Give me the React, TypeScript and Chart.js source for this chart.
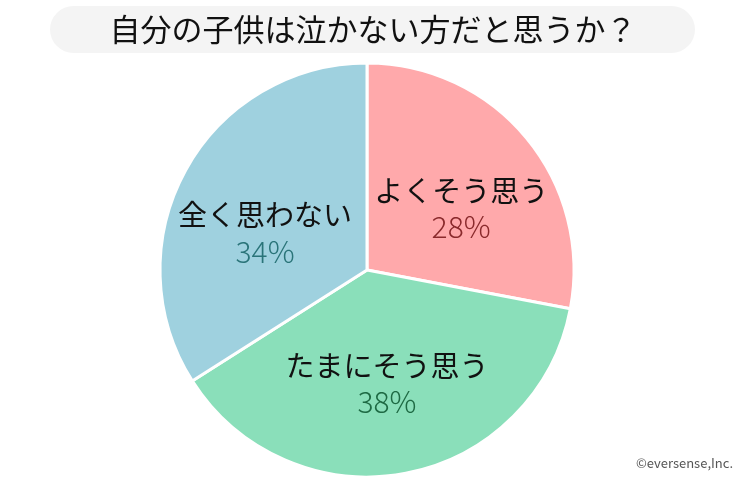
import { useEffect, useRef } from 'react'
import { Chart, ChartConfiguration, Plugin, registerables } from 'chart.js'

Chart.register(...registerables)

// データ
const title = '自分の子供は泣かない方だと思うか？'
const categories = ['よくそう思う', 'たまにそう思う', '全く思わない']
const percents = [28, 38, 34]
const sliceColors = ['#ffa9ab', '#8adfba', '#9fd1df']
const percentColors = ['#8a2a2c', '#1e6a44', '#2a7479']
const credit = '©eversense,Inc.'

const FONT = '"Noto Sans CJK JP", "Noto Sans", sans-serif'

// ラベル位置の微調整 (px)
const labelNudge = [
  { x: 8, y: 10 },
  { x: -1, y: 4 },
  { x: -4, y: 17 },
]

const titlePlugin: Plugin<'pie'> = {
  id: 'titleBox',
  beforeDraw(chart) {
    const { ctx } = chart
    ctx.save()
    ctx.fillStyle = '#f4f4f4'
    ctx.beginPath()
    ctx.roundRect(50, 6, 645, 47, 23.5)
    ctx.fill()
    ctx.fillStyle = '#111'
    ctx.font = `31px ${FONT}`
    ctx.textAlign = 'center'
    ctx.textBaseline = 'middle'
    ctx.fillText(title, 373, 29)

    ctx.fillStyle = '#555'
    ctx.font = `13px ${FONT}`
    ctx.textAlign = 'right'
    ctx.fillText(credit, 733, 463)
    ctx.restore()
  },
}

const labelPlugin: Plugin<'pie'> = {
  id: 'sliceLabels',
  afterDatasetsDraw(chart) {
    const { ctx } = chart
    const meta = chart.getDatasetMeta(0)
    ctx.save()
    ctx.textAlign = 'center'
    ctx.textBaseline = 'middle'
    meta.data.forEach((el: any, i) => {
      const { x, y, startAngle, endAngle, outerRadius } = el.getProps(
        ['x', 'y', 'startAngle', 'endAngle', 'outerRadius'],
        true
      )
      const mid = (startAngle + endAngle) / 2
      const r = outerRadius * 0.54
      const cx = x + Math.cos(mid) * r + labelNudge[i].x
      const cy = y + Math.sin(mid) * r + labelNudge[i].y
      ctx.fillStyle = '#111'
      ctx.font = `29px ${FONT}`
      ctx.fillText(categories[i], cx, cy - 18)
      ctx.fillStyle = percentColors[i]
      ctx.font = `300 30px ${FONT}`
      ctx.fillText(`${percents[i]}%`, cx, cy + 18)
    })
    ctx.restore()
  },
}

export default function App() {
  const canvasRef = useRef<HTMLCanvasElement>(null)
  const chartRef = useRef<Chart<'pie'> | null>(null)

  useEffect(() => {
    if (!canvasRef.current) return
    const ctx = canvasRef.current.getContext('2d')
    if (!ctx) return

    if (chartRef.current) {
      chartRef.current.destroy()
    }

    const config: ChartConfiguration<'pie'> = {
      type: 'pie',
      data: {
        labels: categories,
        datasets: [
          {
            data: percents,
            backgroundColor: sliceColors,
            borderColor: '#ffffff',
            borderWidth: 3,
          },
        ],
      },
      options: {
        responsive: false,
        animation: false,
        radius: 207,
        layout: {
          padding: { top: 60, bottom: 0, left: 157, right: 163 },
        },
        plugins: {
          legend: { display: false },
          tooltip: { enabled: false },
        },
      },
      plugins: [titlePlugin, labelPlugin],
    }

    chartRef.current = new Chart(ctx, config)

    return () => {
      chartRef.current?.destroy()
      chartRef.current = null
    }
  }, [])

  return (
    <div style={{ position: 'fixed', left: 0, top: 0, width: 740, height: 480, background: '#fff' }}>
      <canvas ref={canvasRef} width={740} height={480} style={{ display: 'block' }} />
    </div>
  )
}
